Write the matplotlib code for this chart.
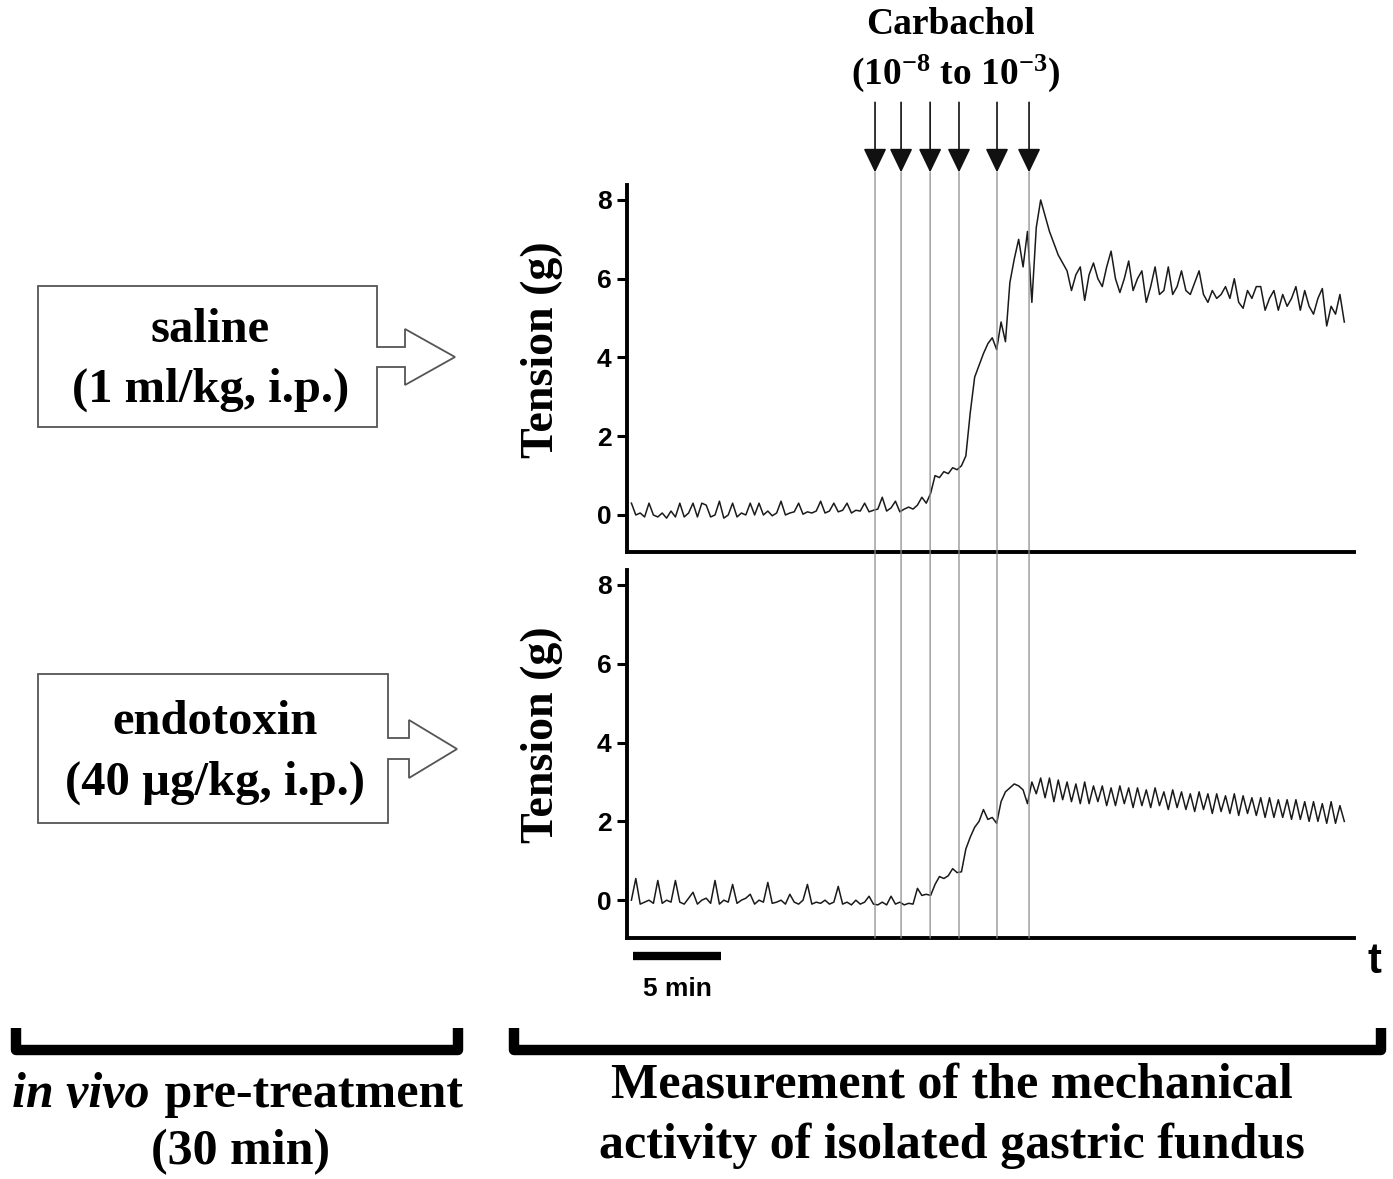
import matplotlib
matplotlib.use("Agg")
import numpy as np
import matplotlib.pyplot as plt
from matplotlib.patches import Polygon, ConnectionPatch
from matplotlib.lines import Line2D

plt.rcParams["mathtext.fontset"] = "custom"
plt.rcParams["mathtext.rm"] = "Liberation Serif:bold"
plt.rcParams["mathtext.bf"] = "Liberation Serif:bold"
plt.rcParams["mathtext.it"] = "Liberation Serif:bold:italic"

# time grid of the recordings (min), one sample every 0.25 min
dt = 0.25
# tension (g), saline pre-treated fundus
saline = [0.3, 0.0, 0.05, -0.05, 0.3, 0.0, -0.05, 0.05, -0.08, 0.1,
          -0.05, 0.3, -0.05, 0.05, 0.3, -0.05, 0.3, 0.25, -0.05, 0.0,
          0.35, -0.08, 0.0, 0.3, -0.05, 0.05, 0.0, 0.3, 0.0, 0.3,
          0.0, 0.1, -0.02, 0.05, 0.35, 0.0, 0.05, 0.08, 0.3, 0.02,
          0.08, 0.05, 0.1, 0.35, 0.05, 0.1, 0.3, 0.08, 0.12, 0.3,
          0.05, 0.12, 0.1, 0.3, 0.08, 0.12, 0.15, 0.45, 0.1, 0.18,
          0.35, 0.08, 0.15, 0.2, 0.15, 0.25, 0.45, 0.3, 0.55, 1.0,
          0.95, 1.1, 1.05, 1.2, 1.15, 1.25, 1.5, 2.6, 3.5, 3.8,
          4.1, 4.35, 4.5, 4.2, 4.9, 4.4, 5.9, 6.5, 7.0, 6.3,
          7.2, 5.4, 7.3, 8.0, 7.6, 7.2, 6.9, 6.6, 6.4, 6.2,
          5.7, 6.1, 6.3, 5.45, 6.1, 6.4, 6.0, 5.8, 6.3, 6.7,
          6.0, 5.65, 6.0, 6.45, 5.7, 6.0, 6.2, 5.4, 5.8, 6.3,
          5.6, 5.7, 6.3, 5.6, 5.8, 6.2, 5.7, 5.6, 5.9, 6.2,
          5.6, 5.4, 5.7, 5.5, 5.6, 5.8, 5.5, 6.0, 5.4, 5.25,
          5.7, 5.5, 5.8, 5.8, 5.2, 5.5, 5.7, 5.2, 5.6, 5.3,
          5.5, 5.8, 5.2, 5.7, 5.3, 5.1, 5.5, 5.75, 4.8, 5.3,
          5.1, 5.6, 4.9]
# tension (g), endotoxin pre-treated fundus
endotoxin = [0.0, 0.55, -0.1, -0.05, 0.0, -0.08, 0.5, -0.08, 0.0, -0.05,
             0.5, -0.05, -0.1, 0.05, 0.2, -0.1, 0.0, 0.05, -0.08, 0.5,
             -0.1, 0.0, -0.05, 0.4, -0.08, 0.0, 0.05, 0.15, -0.1, 0.0,
             -0.05, 0.45, -0.08, -0.05, 0.0, -0.1, 0.15, -0.05, -0.1, 0.0,
             0.4, -0.1, -0.05, -0.08, 0.0, -0.1, -0.05, 0.35, -0.1, -0.05,
             -0.12, 0.0, -0.1, -0.05, 0.1, -0.1, -0.12, -0.05, -0.12, 0.1,
             -0.1, -0.05, -0.12, -0.08, -0.1, 0.3, 0.12, 0.15, 0.12, 0.4,
             0.6, 0.55, 0.62, 0.8, 0.7, 0.72, 1.3, 1.6, 1.85, 2.0,
             2.3, 2.05, 2.1, 1.95, 2.5, 2.75, 2.85, 2.95, 2.9, 2.8,
             2.45, 3.0, 2.7, 3.1, 2.6, 3.1, 2.5, 3.05, 2.55, 3.0,
             2.5, 2.95, 2.45, 3.0, 2.45, 2.9, 2.5, 2.9, 2.4, 2.85,
             2.4, 2.9, 2.45, 2.85, 2.35, 2.85, 2.4, 2.8, 2.35, 2.85,
             2.4, 2.75, 2.3, 2.8, 2.35, 2.75, 2.3, 2.7, 2.25, 2.75,
             2.3, 2.7, 2.2, 2.7, 2.25, 2.65, 2.2, 2.7, 2.15, 2.65,
             2.2, 2.6, 2.15, 2.6, 2.1, 2.6, 2.1, 2.55, 2.1, 2.55,
             2.05, 2.55, 2.05, 2.5, 2.0, 2.5, 2.0, 2.45, 1.95, 2.5,
             1.95, 2.4, 2.0]
# carbachol additions (min)
carbachol_t = [14.09, 15.57, 17.22, 18.86, 21.02, 22.84]
yticks = [0, 2, 4, 6, 8]

t_sal = dt * np.arange(1, len(saline) + 1)
t_end = dt * np.arange(1, len(endotoxin) + 1)

W, H = 1393, 1179
fig = plt.figure(figsize=(W / 100, H / 100), dpi=100)


def fx(x):
    return x / W


def fy(y):
    return 1 - y / H


serif = "Liberation Serif"
sans = "Liberation Sans"

ax1 = fig.add_axes([fx(627), fy(552), fx(1354) - fx(627), fy(185) - fy(552)])
ax2 = fig.add_axes([fx(627), fy(938), fx(1354) - fx(627), fy(570) - fy(938)])

for ax, t, y, ylim, lab_y in [(ax1, t_sal, saline, (-0.94, 8.38), 0.55),
                              (ax2, t_end, endotoxin, (-0.96, 8.38), 0.552)]:
    ax.plot(t, y, color="#1a1a1a", lw=1.1)
    ax.set_xlim(0, 41.3)
    ax.set_ylim(*ylim)
    for s in ["top", "right"]:
        ax.spines[s].set_visible(False)
    ax.spines["left"].set_linewidth(2.8)
    ax.spines["bottom"].set_linewidth(2.8)
    ax.set_xticks([])
    ax.set_yticks(yticks)
    ax.tick_params(axis="y", length=7, width=2.2, pad=4)
    for lab in ax.get_yticklabels():
        lab.set_fontfamily(sans)
        lab.set_fontweight("bold")
        lab.set_fontsize(19)
    ax.set_ylabel("Tension (g)", fontfamily=serif, fontweight="bold",
                  fontsize=33)
    ax.yaxis.set_label_coords(-0.088, lab_y)

# carbachol arrows and guide lines
for tc in carbachol_t:
    ax1.annotate("", xy=(tc, 8.7), xytext=(tc, 10.48), xycoords="data",
                 annotation_clip=False,
                 arrowprops=dict(arrowstyle="-|>,head_length=0.75,head_width=0.36",
                                 color="#111111", lw=1.2, shrinkA=0, shrinkB=0,
                                 mutation_scale=20))
    con = ConnectionPatch(xyA=(tc, 8.7), coordsA=ax1.transData,
                          xyB=(tc, ax2.get_ylim()[0]), coordsB=ax2.transData,
                          color="#8a8a8a", lw=0.9)
    fig.add_artist(con)

fig.text(fx(950), fy(25), "Carbachol", ha="center", va="center",
         fontfamily=serif, fontweight="bold", fontsize=27)
fig.text(fx(955), fy(73), r"(10$^{-8}$ to 10$^{-3}$)", ha="center", va="center",
         fontfamily=serif, fontweight="bold", fontsize=27)

# 5 min scale bar
ax2.plot([0.35, 5.35], [-1.42, -1.42], color="black", lw=6,
         solid_capstyle="butt", clip_on=False)
fig.text(fx(677), fy(989), "5 min", ha="center", va="center",
         fontfamily=sans, fontweight="bold", fontsize=19)
fig.text(fx(1374), fy(962), "t", ha="center", va="center",
         fontfamily=sans, fontweight="bold", fontsize=30)

# treatment boxes with block arrows
box_sal = [(38, 286), (377, 286), (377, 347), (405, 347), (405, 329), (455, 357),
           (405, 385), (405, 367), (377, 367), (377, 427), (38, 427)]
box_end = [(38, 674), (388, 674), (388, 738), (409, 738), (409, 720), (457, 749),
           (409, 778), (409, 759), (388, 759), (388, 823), (38, 823)]
for pts in [box_sal, box_end]:
    fig.add_artist(Polygon([(fx(x), fy(y)) for x, y in pts], closed=True,
                           transform=fig.transFigure, facecolor="white",
                           edgecolor="#555555", lw=1.3))

fig.text(fx(210), fy(330), "saline", ha="center", va="center",
         fontfamily=serif, fontweight="bold", fontsize=35)
fig.text(fx(211), fy(390), "(1 ml/kg, i.p.)", ha="center", va="center",
         fontfamily=serif, fontweight="bold", fontsize=35)
fig.text(fx(215), fy(722), "endotoxin", ha="center", va="center",
         fontfamily=serif, fontweight="bold", fontsize=35)
fig.text(fx(215), fy(783), "(40 µg/kg, i.p.)", ha="center", va="center",
         fontfamily=serif, fontweight="bold", fontsize=35)

# brackets
for x0, x1 in [(16, 458), (514, 1381)]:
    fig.add_artist(Line2D([fx(x0), fx(x0), fx(x1), fx(x1)],
                          [fy(1028), fy(1050), fy(1050), fy(1028)],
                          transform=fig.transFigure, color="black", lw=7.5,
                          solid_joinstyle="round", solid_capstyle="butt"))

t1 = fig.text(fx(12), fy(1095), "in vivo", ha="left", va="center",
              fontfamily=serif, fontweight="bold", fontstyle="italic", fontsize=36)
fig.canvas.draw()
bb = t1.get_window_extent()
fig.text(bb.x1 / W + 0.002, fy(1095), " pre-treatment", ha="left", va="center",
         fontfamily=serif, fontweight="bold", fontsize=36)
fig.text(fx(241), fy(1152), "(30 min)", ha="center", va="center",
         fontfamily=serif, fontweight="bold", fontsize=36)
fig.text(fx(952), fy(1086), "Measurement of the mechanical", ha="center", va="center",
         fontfamily=serif, fontweight="bold", fontsize=36)
fig.text(fx(952), fy(1146), "activity of isolated gastric fundus", ha="center", va="center",
         fontfamily=serif, fontweight="bold", fontsize=36)

fig.savefig("out.png", dpi=100)
